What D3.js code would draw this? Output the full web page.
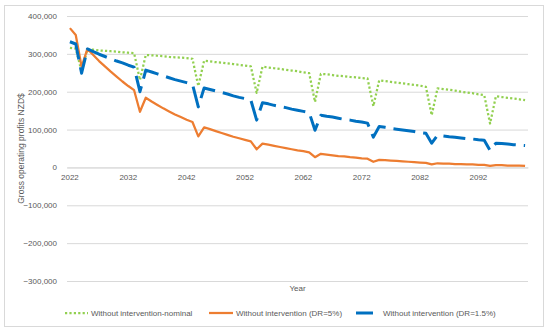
<!DOCTYPE html>
<html>
  <head>
    <title>Gross operating profits</title>
    <meta charset="UTF-8">
    <style>
      body { margin: 0; background: #fff; }
      svg text { font-family: "Liberation Sans", Arial, sans-serif; fill: #595959; }
    </style>
  </head>
  <body>
    <svg></svg>

    <script src="https://d3js.org/d3.v7.min.js"></script>
    <script>

// years on the category axis
var years = d3.range(2022, 2101);

// only every 10th year gets a label
var tickYears = [2022, 2032, 2042, 2052, 2062, 2072, 2082, 2092];

var yTicks = [-300000, -200000, -100000, 0, 100000, 200000, 300000, 400000];

// values, in thousands of NZD$
var nominal = [
  316, 314, 253, 312, 311, 309, 308, 307, 306, 304, 303, 302, 231,
  297, 296, 295, 294, 292, 291, 290, 289, 287, 215,
  282, 280, 278, 277, 275, 273, 271, 269, 267, 197,
  266, 264, 262, 260, 258, 256, 254, 251, 249, 173,
  247, 246, 244, 242, 241, 239, 238, 236, 235, 162,
  230, 228, 226, 224, 222, 220, 218, 216, 213, 138,
  209, 207, 205, 203, 200, 198, 196, 193, 191, 116,
  188, 186, 184, 182, 180, 178
];

var dr5 = [
  368, 350, 266, 313, 297, 281, 267, 253, 240, 227, 215, 204, 147,
  184, 174, 165, 156, 148, 140, 133, 126, 120, 82,
  106, 101, 96, 91, 86, 81, 77, 73, 69, 48,
  63, 60, 57, 54, 51, 48, 45, 43, 40, 27,
  36, 34, 32, 30, 29, 27, 26, 24, 23, 15,
  20, 19, 18, 17, 16, 15, 14, 13, 12, 8,
  11, 10, 10, 9, 9, 8, 8, 7, 7, 4,
  6, 6, 5, 5, 5, 4
];

var dr15 = [
  332, 326, 249, 313, 306, 299, 293, 287, 281, 276, 270, 265, 200,
  257, 252, 247, 242, 237, 232, 228, 224, 220, 160,
  210, 206, 202, 198, 194, 189, 185, 182, 178, 125,
  171, 168, 164, 161, 158, 154, 151, 148, 145, 98,
  138, 135, 133, 130, 127, 125, 122, 120, 117, 80,
  108, 106, 103, 101, 99, 97, 95, 92, 90, 64,
  85, 83, 81, 80, 78, 76, 75, 73, 72, 45,
  64, 63, 62, 60, 59, 58
];

var seriesNames = ["Without intervention-nominal", "Without intervention (DR=5%)", "Without intervention (DR=1.5%)"];

var config = {
  "width": 550,
  "height": 333,
  "fontSize": 8,
  "plot": { "left": 67, "right": 528, "top": 16, "bottom": 281 }
};

var series = [
  { name: seriesNames[0], values: nominal, color: "#92d050", width: 2.25, dash: "2.2,2.2" },
  { name: seriesNames[1], values: dr5, color: "#ed7d31", width: 2.25, dash: null },
  { name: seriesNames[2], values: dr15, color: "#0070c0", width: 3, dash: "22,8" }
];

var svg = d3.select("svg")
    .attr("width", config.width)
    .attr("height", config.height);

var p = config.plot;

// chart border
svg.append("rect")
  .attr("x", 4.5).attr("y", 5.5)
  .attr("width", 539).attr("height", 321)
  .attr("fill", "#fff")
  .attr("stroke", "#d9d9d9");

var x = d3.scaleBand()
    .domain(years)
    .range([p.left, p.right])
    .padding(0);

var y = d3.scaleLinear()
    .domain([-300000, 400000])
    .range([p.bottom, p.top]);

function cx(year) { return x(year) + x.bandwidth() / 2; }

// gridlines + y labels
var yAxis = d3.axisLeft(y)
    .tickValues(yTicks)
    .tickSize(-(p.right - p.left))
    .tickPadding(10)
    .tickFormat(d3.format(","));

var gy = svg.append("g")
    .attr("transform", "translate(" + p.left + ",0)")
    .call(yAxis);
gy.select(".domain").remove();
gy.selectAll(".tick line").attr("stroke", "#d9d9d9").attr("stroke-width", 1);
gy.selectAll(".tick text").attr("font-size", config.fontSize).style("fill", "#595959");

// x axis sits on zero
var xAxis = d3.axisBottom(x)
    .tickValues(tickYears)
    .tickSize(0)
    .tickPadding(7);

var gx = svg.append("g")
    .attr("transform", "translate(0," + y(0) + ")")
    .call(xAxis);
gx.select(".domain").attr("stroke", "#d9d9d9");
gx.selectAll(".tick text").attr("font-size", config.fontSize).style("fill", "#595959");

// lines
var line = d3.line()
    .x(function(d, i) { return cx(years[i]); })
    .y(function(d) { return y(d * 1000); });

series.forEach(function(s) {
  svg.append("path")
    .datum(s.values)
    .attr("d", line)
    .attr("fill", "none")
    .attr("stroke", s.color)
    .attr("stroke-width", s.width)
    .attr("stroke-dasharray", s.dash)
    .attr("stroke-linejoin", "round");
});

// axis titles
svg.append("text")
  .attr("x", (p.left + p.right) / 2)
  .attr("y", 291)
  .attr("text-anchor", "middle")
  .attr("font-size", config.fontSize)
  .text("Year");

svg.append("text")
  .attr("transform", "translate(24," + ((p.top + p.bottom) / 2) + ") rotate(-90)")
  .attr("text-anchor", "middle")
  .attr("font-size", 8.5)
  .text("Gross operating profits NZD$");

// legend
var legendPos = [
  { x1: 65, x2: 88, tx: 91 },
  { x1: 209, x2: 233, tx: 236 },
  { x1: 356, x2: 373, tx: 383 }
];

var legend = svg.append("g").attr("class", "legend");
series.forEach(function(s, i) {
  var lp = legendPos[i];
  legend.append("line")
    .attr("x1", lp.x1).attr("x2", lp.x2)
    .attr("y1", 313).attr("y2", 313)
    .attr("stroke", s.color)
    .attr("stroke-width", s.width)
    .attr("stroke-dasharray", i == 0 ? s.dash : null);
  legend.append("text")
    .attr("x", lp.tx)
    .attr("y", 316)
    .attr("font-size", config.fontSize)
    .text(s.name);
});

    </script>
  </body>
</html>
